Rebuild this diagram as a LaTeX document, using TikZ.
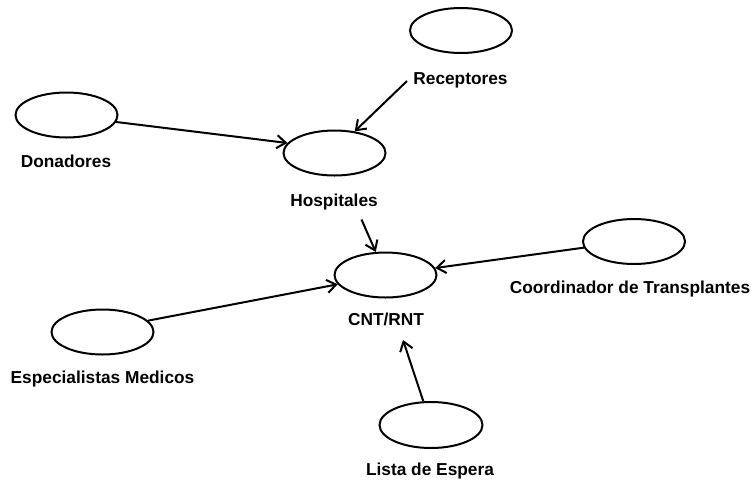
\documentclass[tikz,border=0pt]{standalone}
\usepackage{fontspec}
\setmainfont{Liberation Sans}
\usetikzlibrary{arrows.meta,shapes.geometric}
\begin{document}
\begin{tikzpicture}[x=1pt,y=-1pt,
  actor/.style={ellipse,draw=black,line width=2pt,minimum width=102pt,minimum height=45pt,inner sep=0pt},
  lbl/.style={anchor=base,inner sep=0pt,font=\fontsize{17.3}{20}\selectfont\bfseries},
  arr/.style={draw=black,line width=2pt,-{Straight Barb[length=9pt,width=13pt,line width=2pt]}}]
\useasboundingbox (0,0) rectangle (754,480);
% ellipses
\node[actor] (top)  at (461,30.5) {};
\node[actor] (don)  at (66.5,115) {};
\node[actor] (hosp) at (334.5,153) {};
\node[actor] (cnt)  at (385.5,275) {};
\node[actor] (coord) at (634,241.5) {};
\node[actor] (esp)  at (102.5,332) {};
\node[actor,minimum width=103pt,minimum height=46pt] (lista) at (431,425) {};
% labels
\node[lbl] (recl)  at (460.5,84) {Receptores};
\node[lbl] (donl)  at (66,167) {Donadores};
\node[lbl] (hospl) at (334,206) {Hospitales};
\node[lbl] (cntl)  at (386,325) {CNT/RNT};
\node[lbl] (coordl) at (630,293) {Coordinador de Transplantes};
\node[lbl] (espl)  at (102.5,383) {Especialistas Medicos};
\node[lbl] (listal) at (430,475) {Lista de Espera};
% free ends
\coordinate (rs) at (407,81);
\coordinate (hs) at (361.5,219.5);
\coordinate (lt) at (403,340);
% connectors
\draw[arr] (rs) -- (hosp.47);
\draw[arr] (don.-8) -- (hosp.168);
\draw[arr] (hs) -- (cnt.113);
\draw[arr] (coord.187) -- (cnt.8);
\draw[arr] (esp.14) -- (cnt.191);
\draw[arr] (lista.108) -- (lt);
\end{tikzpicture}
\end{document}
